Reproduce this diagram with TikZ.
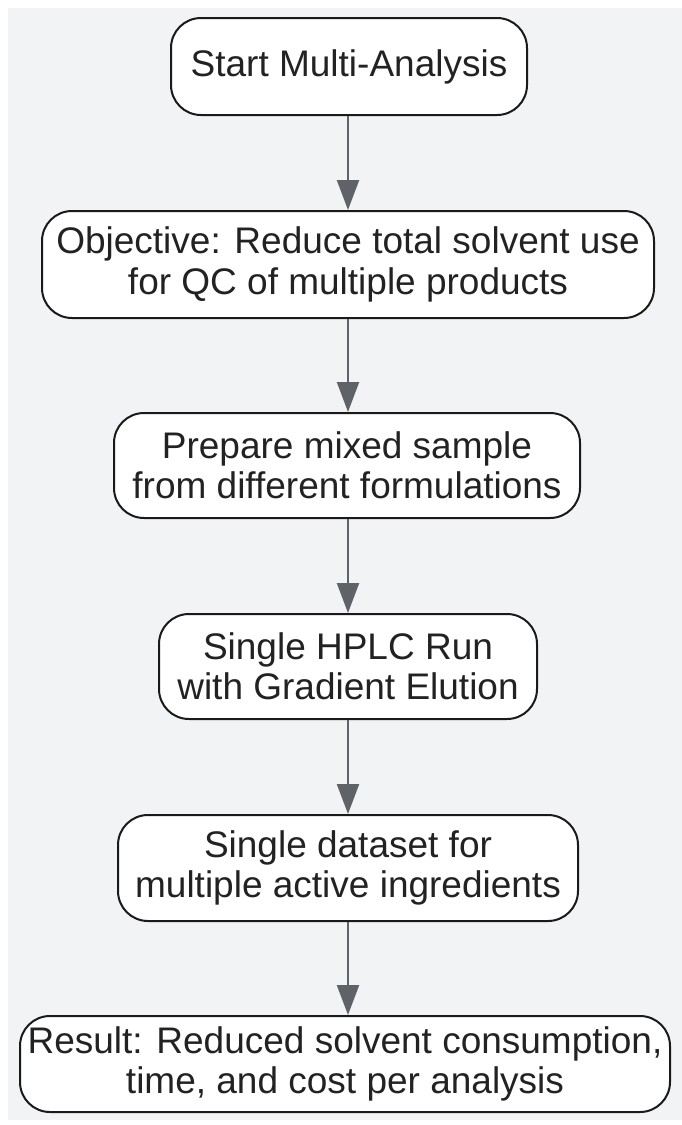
\documentclass[tikz,border=0pt]{standalone}
\usepackage{fontspec}
\setmainfont{Liberation Sans}
\usetikzlibrary{arrows.meta}
\definecolor{bggray}{HTML}{F2F3F5}
\definecolor{edgegray}{HTML}{5F6368}
\definecolor{txt}{HTML}{222222}
\definecolor{bord}{HTML}{1A1A1A}
\begin{document}
\begin{tikzpicture}[x=1pt,y=-1pt,
  box/.style={draw=bord, line width=2pt, fill=white, rounded corners=30pt,
    align=center, text=txt, inner sep=0pt,
    font=\fontsize{37}{40.5}\selectfont},
  arr/.style={draw=edgegray, line width=2.2pt, -{Triangle[length=30pt,width=22pt]}}]
\useasboundingbox (0,0) rectangle (682,1125);
\fill[bggray] (8,8) rectangle (682,1120);
\node[box, minimum width=356pt, minimum height=97pt] (n1) at (349,66.5) {Start Multi-Analysis};
\node[box, minimum width=612pt, minimum height=107pt] (n2) at (348,264.5) {Objective: Reduce total solvent use\\for QC of multiple products};
\node[box, minimum width=466pt, minimum height=105pt] (n3) at (347,465.5) {Prepare mixed sample\\from different formulations};
\node[box, minimum width=378pt, minimum height=105pt] (n4) at (348,666.5) {Single HPLC Run\\with Gradient Elution};
\node[box, minimum width=460pt, minimum height=106pt] (n5) at (348,868) {Single dataset for\\multiple active ingredients};
\node[box, minimum width=650pt, minimum height=96pt] (n6) at (345,1064) {Result: Reduced solvent consumption,\\time, and cost per analysis};
\draw[arr] (n1.south -| n2.north) -- (n2.north);
\draw[arr] (n2.south) -- (n2.south |- n3.north);
\draw[arr] (n3.south -| n4.north) -- (n4.north);
\draw[arr] (n4.south) -- (n5.north);
\draw[arr] (n5.south) -- (n5.south |- n6.north);
\end{tikzpicture}
\end{document}
